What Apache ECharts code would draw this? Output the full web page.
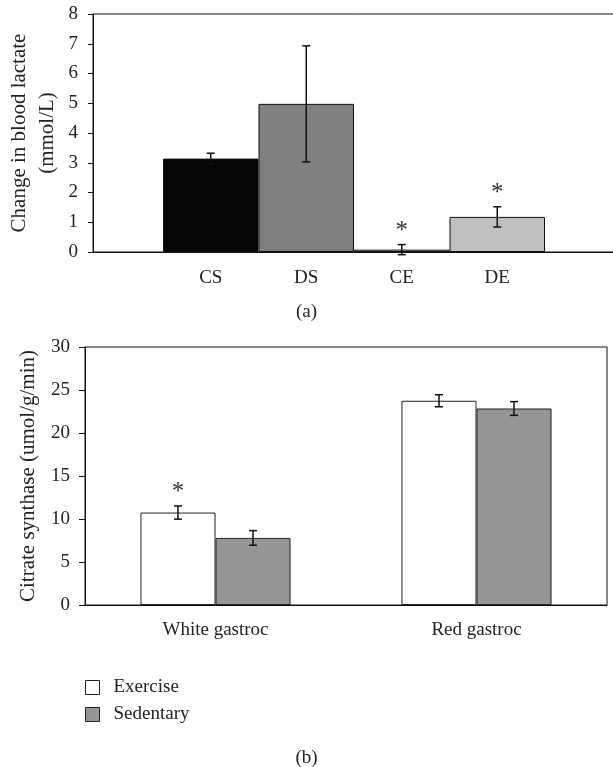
<!DOCTYPE html>
<html>
<head>
<meta charset="utf-8">
<script src="https://cdn.jsdelivr.net/npm/echarts@6/dist/echarts.min.js"></script>
<style>
html, body { margin: 0; padding: 0; background: #fff; }
#main { width: 613px; height: 767px; }
</style>
</head>
<body>
<div id="main"></div>
<script>
// (a) change in blood lactate
var lacCats = ['CS', 'DS', 'CE', 'DE'];
var lacMean = [3.14, 4.98, 0.08, 1.18];
var lacErr = [0.18, 1.95, 0.17, 0.34];
var lacSig = [0, 0, 1, 1];
var lacColors = ['#050505', '#808080', '#d8d8d8', '#c0c0c0'];

// (b) citrate synthase
var csCats = ['White gastroc', 'Red gastroc'];
var csExercise = [10.75, 23.75];
var csExerciseErr = [0.77, 0.7];
var csExerciseSig = [1, 0];
var csSedentary = [7.8, 22.85];
var csSedentaryErr = [0.85, 0.8];
var csSedentarySig = [0, 0];

var FONT = '"Liberation Serif", "DejaVu Serif", serif';
var INK = '#222';
var txt = { fontFamily: FONT, fontSize: 19, color: INK };
var nameTxt = { fontFamily: FONT, fontSize: 21, color: INK };

function errData(mean, err, sig) {
	return mean.map(function (v, i) { return [i, v - err[i], v + err[i], sig[i]]; });
}

// offset: shift of the bar centre, as a fraction of the category band
function errRender(offset) {
	return function (params, api) {
		var x = api.value(0);
		var lo = api.coord([x, api.value(1)]);
		var hi = api.coord([x, api.value(2)]);
		var band = api.size([1, 0])[0];
		var cx = lo[0] + offset * band;
		var cap = 4;
		var st = { stroke: '#111', lineWidth: 1.5 };
		var kids = [
			{ type: 'line', shape: { x1: cx, y1: lo[1], x2: cx, y2: hi[1] }, style: st },
			{ type: 'line', shape: { x1: cx - cap, y1: lo[1], x2: cx + cap, y2: lo[1] }, style: st },
			{ type: 'line', shape: { x1: cx - cap, y1: hi[1], x2: cx + cap, y2: hi[1] }, style: st }
		];
		if (api.value(3)) {
			kids.push({
				type: 'text',
				x: cx, y: hi[1] - 26,
				style: { text: '*', align: 'center', verticalAlign: 'top', fontSize: 25, fontFamily: FONT, fill: '#333' }
			});
		}
		return { type: 'group', children: kids };
	};
}

var barFrac = (1 - 0.425) / 2;

var chart = echarts.init(document.getElementById('main'));
chart.setOption({
	animation: false,
	backgroundColor: '#fff',
	title: [
		{ text: '(a)', left: 'center', top: 298, textStyle: { fontFamily: FONT, fontSize: 19, fontWeight: 'normal', color: INK } },
		{ text: '(b)', left: 'center', top: 744, textStyle: { fontFamily: FONT, fontSize: 19, fontWeight: 'normal', color: INK } }
	],
	legend: {
		data: ['Exercise', 'Sedentary'],
		orient: 'vertical',
		left: 80, top: 673,
		itemWidth: 14, itemHeight: 14, itemGap: 8,
		icon: 'rect',
		itemStyle: { borderColor: '#222', borderWidth: 1 },
		textStyle: { fontFamily: FONT, fontSize: 19, color: INK, padding: [0, 0, 0, 9] }
	},
	grid: [
		{ left: 93, top: 14, width: 525, height: 238, show: true, borderColor: '#111', borderWidth: 1, backgroundColor: 'transparent', outerBoundsMode: 'none' },
		{ left: 163, top: 14, width: 382, height: 238, outerBoundsMode: 'none' },
		{ left: 85, top: 347, width: 522, height: 258, show: true, borderColor: '#111', borderWidth: 1, backgroundColor: 'transparent', outerBoundsMode: 'none' }
	],
	xAxis: [
		{ gridIndex: 0, type: 'category', data: [''], axisLine: { lineStyle: { color: '#111', width: 1 } }, axisTick: { length: 6, lineStyle: { color: '#111' } }, axisLabel: { show: false } },
		{ gridIndex: 1, type: 'category', data: lacCats, axisLine: { show: false }, axisTick: { show: false }, axisLabel: Object.assign({ margin: 17 }, txt) },
		{ gridIndex: 2, type: 'category', data: csCats, axisLine: { lineStyle: { color: '#111', width: 1 } }, axisTick: { length: 6, lineStyle: { color: '#111' } }, axisLabel: Object.assign({ margin: 16 }, txt) }
	],
	yAxis: [
		{
			gridIndex: 0, type: 'value', min: 0, max: 8, interval: 1,
			splitLine: { show: false },
			axisLine: { show: true, lineStyle: { color: '#111', width: 1 } },
			axisTick: { show: true, length: 5, lineStyle: { color: '#111' } },
			axisLabel: Object.assign({ margin: 15 }, txt),
			name: 'Change in blood lactate\n(mmol/L)',
			nameLocation: 'middle', nameGap: 32, nameRotate: 90, nameMoveOverlap: false,
			nameTextStyle: Object.assign({ lineHeight: 28 }, nameTxt)
		},
		{ gridIndex: 1, type: 'value', min: 0, max: 8, show: false },
		{
			gridIndex: 2, type: 'value', min: 0, max: 30, interval: 5,
			splitLine: { show: false },
			axisLine: { show: true, lineStyle: { color: '#111', width: 1 } },
			axisTick: { show: true, length: 6, lineStyle: { color: '#111' } },
			axisLabel: Object.assign({ margin: 15 }, txt),
			name: 'Citrate synthase (umol/g/min)',
			nameLocation: 'middle', nameGap: 46, nameRotate: 90,
			nameTextStyle: nameTxt
		}
	],
	series: [
		{
			type: 'bar', xAxisIndex: 1, yAxisIndex: 1, barCategoryGap: '0%',
			itemStyle: { borderColor: '#111', borderWidth: 1 },
			data: lacMean.map(function (v, i) { return { value: v, itemStyle: { color: lacColors[i] } }; })
		},
		{
			type: 'custom', xAxisIndex: 1, yAxisIndex: 1, z: 5,
			renderItem: errRender(0), encode: { x: 0, y: [1, 2] },
			data: errData(lacMean, lacErr, lacSig)
		},
		{
			name: 'Exercise', type: 'bar', xAxisIndex: 2, yAxisIndex: 2,
			barGap: '0%', barCategoryGap: '42.5%',
			itemStyle: { color: '#ffffff', borderColor: '#222', borderWidth: 1 },
			data: csExercise
		},
		{
			name: 'Sedentary', type: 'bar', xAxisIndex: 2, yAxisIndex: 2,
			barGap: '0%', barCategoryGap: '42.5%',
			itemStyle: { color: '#969696', borderColor: '#222', borderWidth: 1 },
			data: csSedentary
		},
		{
			type: 'custom', xAxisIndex: 2, yAxisIndex: 2, z: 5,
			renderItem: errRender(-barFrac / 2), encode: { x: 0, y: [1, 2] },
			data: errData(csExercise, csExerciseErr, csExerciseSig)
		},
		{
			type: 'custom', xAxisIndex: 2, yAxisIndex: 2, z: 5,
			renderItem: errRender(barFrac / 2), encode: { x: 0, y: [1, 2] },
			data: errData(csSedentary, csSedentaryErr, csSedentarySig)
		}
	]
});
</script>
</body>
</html>
